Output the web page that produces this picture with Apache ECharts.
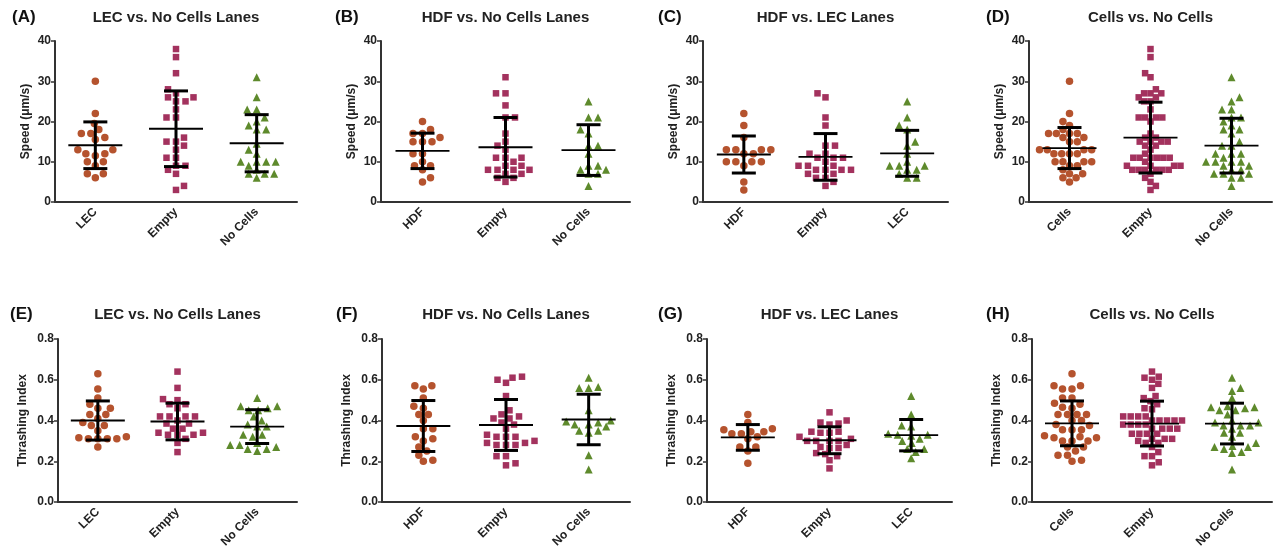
<!DOCTYPE html>
<html>
<head>
<meta charset="utf-8">
<script src="https://cdn.jsdelivr.net/npm/echarts@6/dist/echarts.min.js"></script>
<style>html,body{margin:0;padding:0;background:#fff;}#c{width:1273px;height:554px;}</style>
</head>
<body>
<div id="c"></div>
<script>
// ---------- DATA ----------
const panelLetters = ['(A)','(B)','(C)','(D)','(E)','(F)','(G)','(H)'];
const panelTitles = ['LEC vs. No Cells Lanes','HDF vs. No Cells Lanes','HDF vs. LEC Lanes','Cells vs. No Cells',
                     'LEC vs. No Cells Lanes','HDF vs. No Cells Lanes','HDF vs. LEC Lanes','Cells vs. No Cells'];
const catLabels = [['LEC','Empty','No Cells'],['HDF','Empty','No Cells'],['HDF','Empty','LEC'],['Cells','Empty','No Cells'],
                   ['LEC','Empty','No Cells'],['HDF','Empty','No Cells'],['HDF','Empty','LEC'],['Cells','Empty','No Cells']];
const yNames = ['Speed (\u03bcm/s)','Thrashing Index'];
const speedTicks = [0,10,20,30,40];
const thrashTicks = [0.0,0.2,0.4,0.6,0.8];

// Speed panels
const A_LEC = [30,22,19.5,17,16,17,18,15.5,13,13,12,12,11.5,10,9,10,7,7,6];
const A_Empty = [38,36,32,28,27,26,26,25,25,23,21,21,16,15,15,14,13,11,11,9,9,8,7,4,3];
const A_NoCells = [31,26,23,23,21,20,19,18,18,14.5,12,13,10,10,10,10,8,9,7,7,6,7];
const A_mean = [14.1,18.2,14.6], A_sd = [5.8,9.4,7.1];

const B_HDF = [20,18,17,17,16,15,15,15,12,12,10,9,9,8,6,5];
const B_Empty = [31,27,27,24,21,21,17,15,14,13,11,11,11,10,9,9,8,8,8,8,7,7,6,6,5];
const B_NoCells = [25,21,21,18,17,14,14,12,9,9,8,8,7,7,4];
const B_mean = [12.7,13.6,12.9], B_sd = [4.4,7.4,6.3];

const C_HDF = [22,19,16,13,13,13,13,12,12,10,10,10,10,9,5,3];
const C_Empty = [27,26,21,19,14,14,12,12,11,11,11,10,9,9,9,8,8,8,8,7,7,6,6,5,4];
const C_LEC = [25,21,19,18,15,14,12,10,9,9,9,8,8,7,6,6];
const C_mean = [11.8,11.2,12.1], C_sd = [4.6,5.8,5.7];

const D_Cells = [30,22,20,19,18,17,17,17,17,16,16,15,15,13,13,13,13,12,12,12,12,10,10,10,10,9,9,8,7,7,6,6,5];
const D_Empty = [38,36,32,31,28,27,27,27,26,26,25,25,23,21,21,21,21,20,17,16,16,15,15,15,15,14,14,13,12,11,11,11,11,11,11,10,9,9,9,9,8,8,8,8,8,8,7,6,5,4,3];
const D_NoCells = [31,26,25,23,23,21,21,20,19,18,18,17,15,14,14,12,12,12,11,10,10,10,10,9,9,8,8,7,7,7,6,6,4];
const D_mean = [13.4,16.0,14.0], D_sd = [5.1,8.8,6.8];

// Thrashing index panels
const E_LEC = [0.63,0.555,0.51,0.48,0.46,0.46,0.43,0.43,0.41,0.39,0.375,0.375,0.35,0.315,0.32,0.31,0.31,0.31,0.31,0.27];
const E_Empty = [0.64,0.56,0.505,0.50,0.48,0.48,0.46,0.42,0.42,0.42,0.42,0.40,0.385,0.385,0.36,0.36,0.34,0.34,0.33,0.33,0.33,0.31,0.29,0.245];
const E_NoCells = [0.51,0.47,0.47,0.46,0.45,0.45,0.42,0.40,0.38,0.37,0.37,0.33,0.33,0.32,0.29,0.28,0.26,0.25,0.26,0.27,0.28];
const E_mean = [0.40,0.395,0.37], E_sd = [0.096,0.09,0.083];

const F_HDF = [0.57,0.57,0.555,0.51,0.47,0.46,0.43,0.43,0.40,0.36,0.36,0.32,0.31,0.30,0.27,0.25,0.23,0.20,0.205];
const F_Empty = [0.615,0.61,0.60,0.585,0.52,0.45,0.42,0.41,0.43,0.41,0.38,0.39,0.36,0.33,0.32,0.32,0.32,0.30,0.29,0.29,0.28,0.28,0.28,0.225,0.225,0.18,0.19];
const F_NoCells = [0.61,0.56,0.56,0.565,0.45,0.40,0.39,0.395,0.38,0.37,0.38,0.35,0.35,0.34,0.23,0.16];
const F_mean = [0.373,0.378,0.405], F_sd = [0.125,0.125,0.124];

const G_HDF = [0.43,0.39,0.355,0.345,0.36,0.335,0.345,0.32,0.31,0.335,0.27,0.27,0.25,0.19];
const G_Empty = [0.44,0.40,0.39,0.385,0.38,0.345,0.34,0.34,0.345,0.32,0.31,0.30,0.30,0.30,0.30,0.28,0.27,0.265,0.265,0.24,0.235,0.225,0.205,0.165];
const G_LEC = [0.52,0.43,0.375,0.37,0.33,0.33,0.335,0.31,0.325,0.30,0.29,0.26,0.26,0.245,0.215];
const G_mean = [0.317,0.303,0.328], G_sd = [0.063,0.066,0.077];

const H_Cells = [0.63,0.57,0.57,0.555,0.555,0.51,0.51,0.485,0.48,0.46,0.465,0.43,0.43,0.43,0.43,0.40,0.40,0.38,0.375,0.355,0.355,0.355,0.32,0.315,0.315,0.325,0.30,0.30,0.30,0.27,0.27,0.25,0.23,0.23,0.20,0.205];
const H_Empty = [0.64,0.61,0.615,0.60,0.58,0.56,0.52,0.51,0.495,0.48,0.46,0.455,0.42,0.42,0.42,0.42,0.40,0.40,0.40,0.40,0.40,0.38,0.38,0.38,0.38,0.36,0.36,0.36,0.36,0.335,0.335,0.335,0.335,0.31,0.31,0.31,0.30,0.29,0.29,0.27,0.245,0.225,0.225,0.195,0.18];
const H_NoCells = [0.61,0.56,0.545,0.51,0.47,0.46,0.465,0.465,0.45,0.45,0.43,0.40,0.39,0.39,0.375,0.375,0.375,0.36,0.34,0.34,0.32,0.29,0.27,0.275,0.27,0.26,0.245,0.24,0.16];
const H_mean = [0.386,0.385,0.385], H_sd = [0.11,0.11,0.10];

const panelGroups = [
  [A_LEC,A_Empty,A_NoCells],[B_HDF,B_Empty,B_NoCells],[C_HDF,C_Empty,C_LEC],[D_Cells,D_Empty,D_NoCells],
  [E_LEC,E_Empty,E_NoCells],[F_HDF,F_Empty,F_NoCells],[G_HDF,G_Empty,G_LEC],[H_Cells,H_Empty,H_NoCells]
];
const panelMeans = [A_mean,B_mean,C_mean,D_mean,E_mean,F_mean,G_mean,H_mean];
const panelSDs = [A_sd,B_sd,C_sd,D_sd,E_sd,F_sd,G_sd,H_sd];

// ---------- LAYOUT / STYLE ----------
const grids = [
  {left:55, top:41, width:242, height:161},
  {left:381, top:41, width:249, height:161},
  {left:703, top:41, width:245, height:161},
  {left:1029, top:41, width:243, height:161},
  {left:58, top:339, width:239, height:163},
  {left:382, top:339, width:248, height:163},
  {left:707, top:339, width:245, height:163},
  {left:1032, top:339, width:240, height:163}
];
const letterX = [12,335,658,986,10,336,658,986];
const symbols = ['circle','rect','triangle'];
const symSizes = [7.5,6.5,8];
const colors = ['#b5532e','#a3325e','#5e8a2c'];
const FONT = 'Liberation Sans, Arial, sans-serif';
const AX = '#333';
const MAX_SPREAD = 30; // px, widest allowed half-width of a point cloud

// beeswarm layout (pixel based, elliptical collision), returns offsets in category units
function swarm(vals, pxPerY, bandPx, D, k){
  const order = vals.map((v,i)=>i).sort((a,b)=>vals[a]-vals[b]);
  const placed = []; const px = new Array(vals.length);
  let flip = 1;
  for(const i of order){
    const y = vals[i]*pxPerY;
    let best = null;
    for(let s=0;s<400 && best===null;s++){
      const step = s*0.5;
      const cands = s===0 ? [0] : [flip*step, -flip*step];
      for(const x of cands){
        let ok = true;
        for(const p of placed){
          const dx=p.x-x, dy=(p.y-y)*k;
          if(dx*dx+dy*dy < D*D-1e-6){ok=false;break;}
        }
        if(ok){best=x;break;}
      }
    }
    if(best!==0) flip = -flip;
    placed.push({x:best,y});
    px[i] = best;
  }
  const maxAbs = Math.max(...px.map(Math.abs));
  const sc = maxAbs > MAX_SPREAD ? MAX_SPREAD/maxAbs : 1;
  return px.map(x=>x*sc/bandPx);
}

const option = {
  animation:false,
  backgroundColor:'#fff',
  textStyle:{fontFamily:FONT},
  title:[], grid:[], xAxis:[], yAxis:[], series:[]
};

for(let p=0;p<8;p++){
  const g = grids[p];
  const isSpeed = p<4;
  const ymax = isSpeed?40:0.8;
  const ticks = isSpeed?speedTicks:thrashTicks;
  option.grid.push({left:g.left, top:g.top, width:g.width, height:g.height, containLabel:false});
  const titleTop = isSpeed?9:306;
  option.title.push({text:panelLetters[p], left:letterX[p], top:titleTop, padding:0,
    textStyle:{fontSize:17,fontWeight:'bold',color:'#111',fontFamily:FONT}});
  option.title.push({text:panelTitles[p], left:g.left+g.width/2, top:titleTop+1, textAlign:'center', padding:0,
    textStyle:{fontSize:15,fontWeight:'bold',color:'#222',fontFamily:FONT}});
  option.xAxis.push({
    type:'category', gridIndex:p, data:catLabels[p], boundaryGap:true,
    axisLine:{onZero:false,lineStyle:{color:AX,width:2}},
    axisTick:{alignWithLabel:true,length:5,lineStyle:{color:AX,width:1.5}},
    axisLabel:{rotate:45,interval:0,margin:8,fontSize:12,fontWeight:'bold',color:'#222',fontFamily:FONT},
    splitLine:{show:false}
  });
  option.xAxis.push({type:'value', gridIndex:p, min:-0.5, max:2.5, show:false, axisLine:{onZero:false}});
  option.yAxis.push({
    type:'value', gridIndex:p, min:0, max:ymax, interval:ticks[1]-ticks[0],
    name:yNames[isSpeed?0:1], nameLocation:'middle', nameGap:isSpeed?23:29,
    nameTextStyle:{fontSize:12,fontWeight:'bold',color:'#222',fontFamily:FONT},
    axisLine:{show:true,onZero:false,lineStyle:{color:AX,width:2}},
    axisTick:{show:true,length:4,lineStyle:{color:AX,width:1.5}},
    axisLabel:{fontSize:12,fontWeight:'bold',color:'#222',margin:4,fontFamily:FONT,
      formatter:v=>isSpeed?String(v):v.toFixed(1)},
    splitLine:{show:false}
  });
  const pxPerY = g.height/ymax;
  const bandPx = g.width/3;
  panelGroups[p].forEach((vals,gi)=>{
    const offs = swarm(vals, pxPerY, bandPx, 9.5, 1.4);
    option.series.push({
      type:'scatter', xAxisIndex:2*p+1, yAxisIndex:p,
      symbol:symbols[gi], symbolSize:symSizes[gi],
      itemStyle:{color:colors[gi],opacity:1},
      data:vals.map((v,i)=>[gi+offs[i], v]), z:2, silent:true
    });
  });
  option.series.push({
    type:'custom', xAxisIndex:2*p+1, yAxisIndex:p, z:5, silent:true,
    data:panelMeans[p].map((m,i)=>[i,m,panelSDs[p][i]]),
    renderItem:function(params,api){
      const x=api.value(0), m=api.value(1), s=api.value(2);
      const c=api.coord([x,m]), hi=api.coord([x,m+s]), lo=api.coord([x,m-s]);
      const mw=27, cw=12;
      return {type:'group',children:[
        {type:'line',shape:{x1:c[0]-mw,y1:c[1],x2:c[0]+mw,y2:c[1]},style:{stroke:'#000',lineWidth:1.8}},
        {type:'line',shape:{x1:hi[0],y1:hi[1],x2:lo[0],y2:lo[1]},style:{stroke:'#000',lineWidth:3}},
        {type:'line',shape:{x1:hi[0]-cw,y1:hi[1],x2:hi[0]+cw,y2:hi[1]},style:{stroke:'#000',lineWidth:3}},
        {type:'line',shape:{x1:lo[0]-cw,y1:lo[1],x2:lo[0]+cw,y2:lo[1]},style:{stroke:'#000',lineWidth:3}}
      ]};
    }
  });
}

const chart = echarts.init(document.getElementById('c'), null, {renderer:'canvas'});
chart.setOption(option);
</script>
</body>
</html>
